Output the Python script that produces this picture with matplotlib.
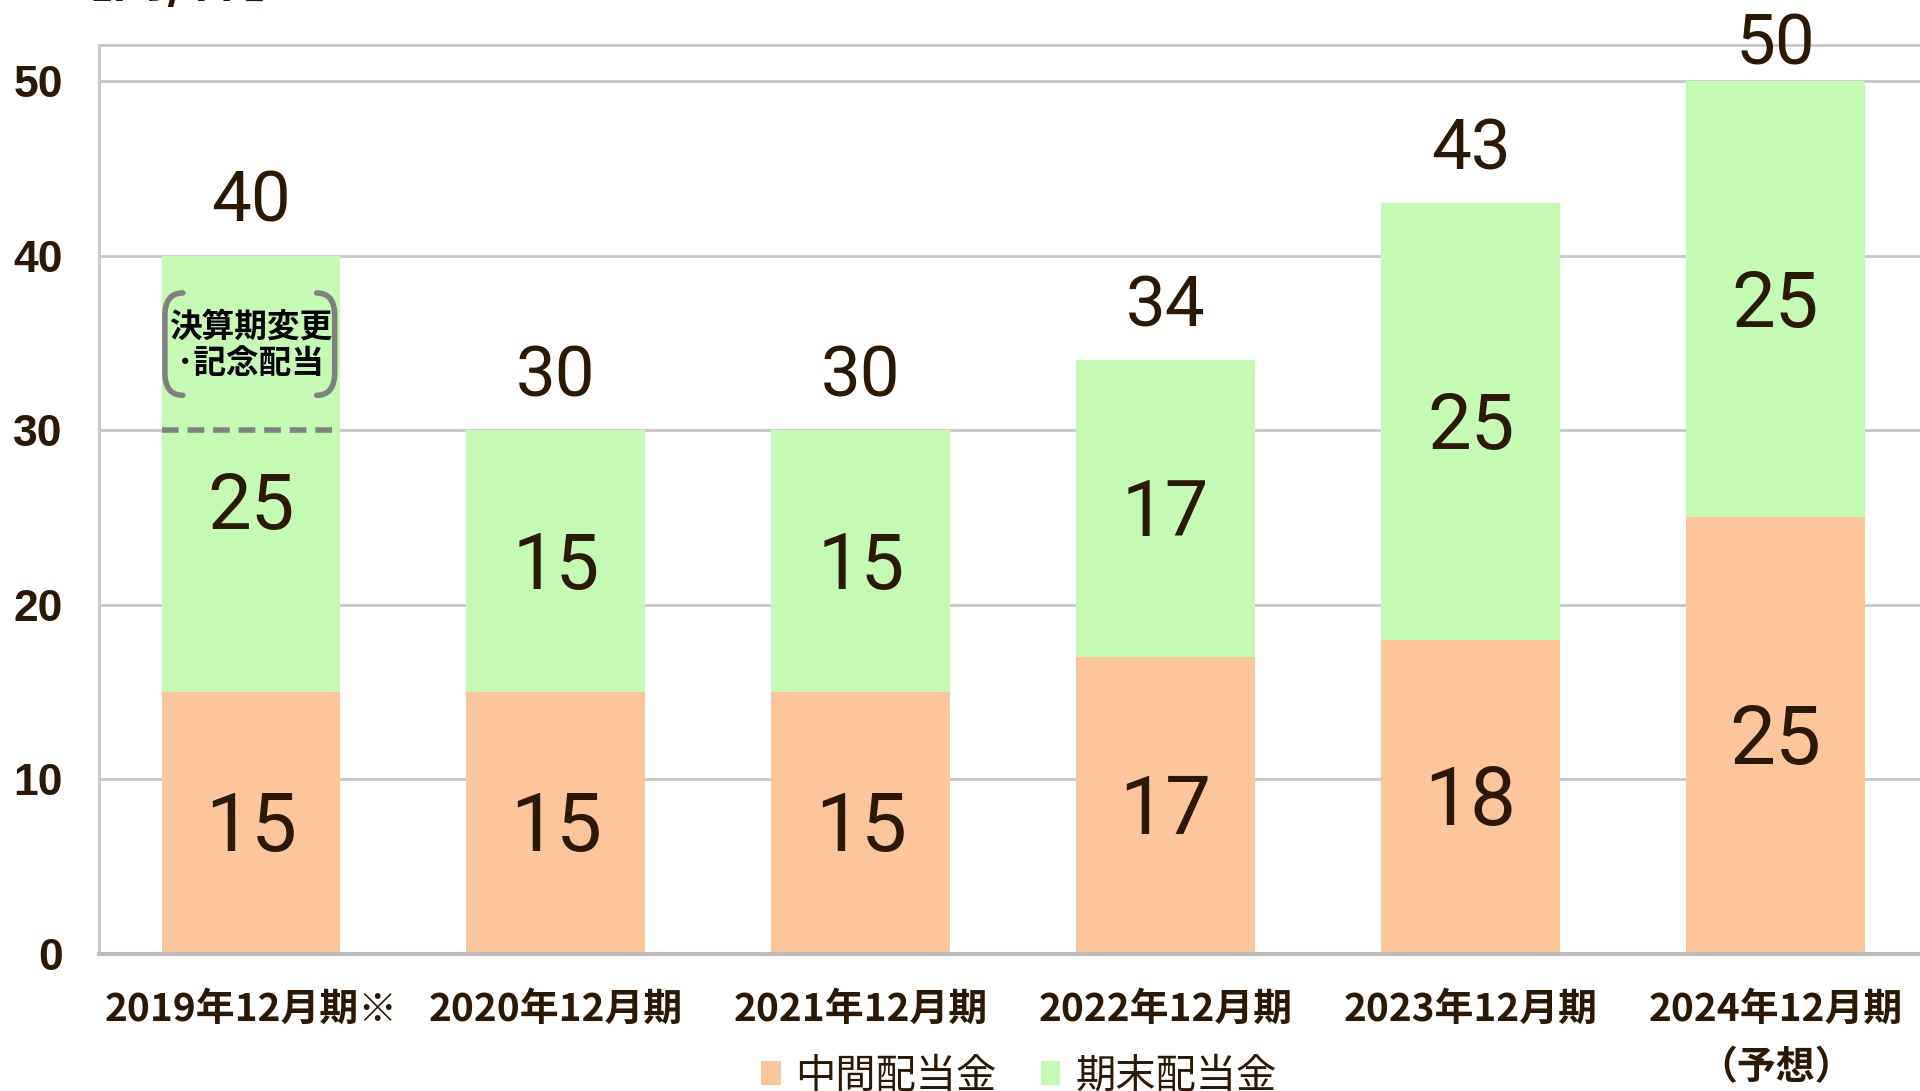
import matplotlib
matplotlib.use("Agg")
import matplotlib.pyplot as plt
from matplotlib.patches import Patch, PathPatch
from matplotlib.path import Path
from matplotlib.transforms import ScaledTranslation
import numpy as np

plt.rcParams['font.family'] = ['Noto Sans CJK JP', 'DejaVu Sans']

# ---- data ----
categories = ["2019年12月期※", "2020年12月期", "2021年12月期",
              "2022年12月期", "2023年12月期", "2024年12月期\n（予想）"]
interim = [15, 15, 15, 17, 18, 25]        # 中間配当金
year_end = [25, 15, 15, 17, 25, 25]       # 期末配当金
totals = [40, 30, 30, 34, 43, 50]
year_end_labels = ["25", "15", "15", "17", "25", "25"]
series_names = ["中間配当金", "期末配当金"]
yticks = [0, 10, 20, 30, 40, 50]
special_line = 30          # 決算期変更・記念配当 boundary in 2019
special_text = "決算期変更\n･記念配当"
unit_text = "【円/株】"

# ---- style ----
c_orange = "#FDC69A"
c_green = "#C5FAB2"
c_text = "#2B1905"
c_grid = "#C8C8C8"

W, H = 1920, 1091
fig = plt.figure(figsize=(W / 100, H / 100), dpi=100)
ax_left, ax_right = 99, 1928
ax_top, ax_bot = 45, 954
ax = fig.add_axes([ax_left / W, 1 - ax_bot / H, (ax_right - ax_left) / W, (ax_bot - ax_top) / H])

x = np.arange(len(categories))
bw = 0.586
ax.bar(x, interim, width=bw, color=c_orange, zorder=2)
ax.bar(x, year_end, width=bw, bottom=interim, color=c_green, zorder=2)

ax.set_xlim(-0.498, 5.5)
ax.set_ylim(0, 52.06)

ax.set_yticks(yticks)
ax.set_yticklabels([str(v) for v in yticks], family="Liberation Sans",
                   fontweight="bold", fontsize=32, color=c_text)
ax.set_xticks(x)
ax.set_xticklabels(categories, fontweight="bold", fontsize=28, color=c_text,
                   va="top", linespacing=1.6)
ax.tick_params(axis="both", length=0)
ax.tick_params(axis="y", pad=26)
ax.tick_params(axis="x", pad=26)

ax.grid(axis="y", color=c_grid, linewidth=2, zorder=0)
ax.set_axisbelow(True)
for s in ["left", "top", "right"]:
    ax.spines[s].set_color(c_grid)
    ax.spines[s].set_linewidth(2)
ax.spines["bottom"].set_color("#BDBDBD")
ax.spines["bottom"].set_linewidth(3)

# value labels (shifted slightly down so that digits sit centered)
shift = ax.transData + ScaledTranslation(0, -6 / 100, fig.dpi_scale_trans)
total_offsets = [3.4, 3.4, 3.4, 3.4, 3.4, 2.4]
for i in range(len(categories)):
    ax.text(x[i], interim[i] / 2, str(interim[i]), ha="center", va="center",
            family="Roboto", fontsize=59, color=c_text, zorder=4, transform=shift)
    if i == 0:
        ymid = interim[i] + (special_line - interim[i]) / 2 + 3.4
    else:
        ymid = interim[i] + year_end[i] / 2
    ax.text(x[i], ymid, year_end_labels[i], ha="center", va="center",
            family="Roboto", fontsize=56, color=c_text, zorder=4, transform=shift)
    ax.text(x[i], totals[i] + total_offsets[i], str(totals[i]), ha="center", va="center",
            family="Roboto", fontsize=51, color=c_text, zorder=4, transform=shift)

# special annotation on 2019 bar
ax.plot([x[0] - bw / 2, x[0] + bw / 2], [special_line, special_line],
        color="#808080", linewidth=4, linestyle=(0, (3, 1.6)), zorder=3)
ax.text(x[0], 34.85, special_text, ha="center", va="center", fontsize=23.5,
        fontweight="bold", color="#000000", linespacing=1.15, zorder=4)

def bracket(side):
    xo = x[0]
    if side == "left":
        xa, xb = xo - 0.223, xo - 0.282
    else:
        xa, xb = xo + 0.216, xo + 0.275
    yt, yb, r = 37.86, 32.0, 1.3
    verts = [(xa, yt), (xb, yt), (xb, yt - r),
             (xb, yb + r), (xb, yb), (xa, yb)]
    codes = [Path.MOVETO, Path.CURVE3, Path.CURVE3,
             Path.LINETO, Path.CURVE3, Path.CURVE3]
    ax.add_patch(PathPatch(Path(verts, codes), fill=False, edgecolor="#808080",
                           linewidth=4, zorder=4, capstyle="round"))

bracket("left")
bracket("right")

# unit label (cut off at the top)
fig.text(56 / W, 1 - 8 / H, unit_text, ha="left", va="bottom", fontsize=40,
         fontweight="bold", color=c_text)

# legend
handles = [Patch(facecolor=c_orange, edgecolor="none"),
           Patch(facecolor=c_green, edgecolor="none")]
fig.legend(handles, series_names, loc="center", bbox_to_anchor=(1019 / W, 1 - 1076 / H),
           ncol=2, frameon=False, prop={"family": "Noto Sans CJK JP", "size": 29},
           labelcolor=c_text, handlelength=0.48, handleheight=0.52,
           handletextpad=0.37, columnspacing=1.1, borderpad=0, borderaxespad=0)

fig.savefig("out.png", dpi=100)
